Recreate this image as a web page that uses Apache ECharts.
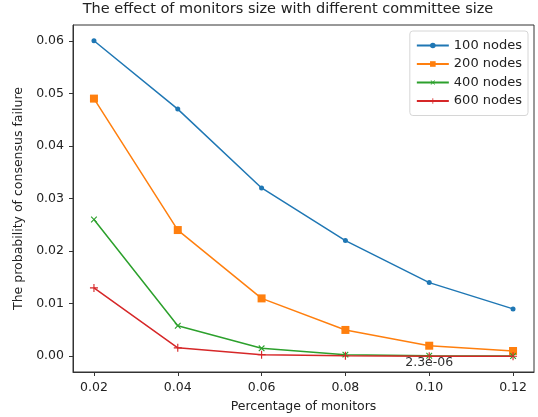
<!DOCTYPE html>
<html>
<head>
<meta charset="utf-8">
<script src="https://cdn.jsdelivr.net/npm/echarts@6/dist/echarts.min.js"></script>
<style>
  html, body { margin: 0; padding: 0; background: #fff; }
  #chart { width: 538px; height: 417px; }
</style>
</head>
<body>
<div id="chart"></div>
<script>
var monitors = [0.02, 0.04, 0.06, 0.08, 0.10, 0.12];
var nodes100 = [0.060, 0.047, 0.032, 0.022, 0.014, 0.009];
var nodes200 = [0.049, 0.024, 0.011, 0.005, 0.002, 0.001];
var nodes400 = [0.026, 0.0058, 0.0015, 0.0003, 0.0001, 0.00004];
var nodes600 = [0.013, 0.0016, 0.0003, 0.0001, 0.0000023, 0.0000005];
var xTicks = [0.02, 0.04, 0.06, 0.08, 0.10, 0.12];
var yTicks = [0.00, 0.01, 0.02, 0.03, 0.04, 0.05, 0.06];
var seriesNames = ['100 nodes', '200 nodes', '400 nodes', '600 nodes'];

var font = 'DejaVu Sans';
var plus = 'path://M4.3,0H5.7V4.3H10V5.7H5.7V10H4.3V5.7H0V4.3H4.3Z';

function pairs(ys) {
    return monitors.map(function (x, i) { return [x, ys[i]]; });
}

function line(name, ys, color, symbol, size, rotate) {
    return {
        name: name,
        type: 'line',
        data: pairs(ys),
        symbol: symbol,
        symbolSize: size,
        symbolRotate: rotate || 0,
        showAllSymbol: true,
        lineStyle: { color: color, width: 1.5 },
        itemStyle: { color: color },
        emphasis: { disabled: true },
        z: 2
    };
}

var axisText = { fontFamily: font, fontSize: 12.5, color: '#222' };

var myChart = echarts.init(document.getElementById('chart'));
var option = {
    animation: false,
    title: {
        text: 'The effect of monitors size with different committee size',
        left: 288,
        top: 2,
        padding: 0,
        textAlign: 'center',
        textStyle: { fontFamily: font, fontSize: 14.5, fontWeight: 'normal', color: '#222' }
    },
    legend: {
        orient: 'vertical',
        right: 10,
        top: 31,
        data: seriesNames,
        itemWidth: 32,
        itemHeight: 7,
        itemGap: 5.5,
        padding: [8, 6, 8, 6],
        borderColor: '#d6d6d6',
        borderWidth: 1,
        borderRadius: 3,
        backgroundColor: '#fff',
        textStyle: { fontFamily: font, fontSize: 13, color: '#222' }
    },
    grid: {
        left: 73,
        right: 4,
        top: 25,
        bottom: 45,
        outerBoundsMode: 'none',
        show: true,
        borderColor: '#333',
        borderWidth: 1
    },
    xAxis: {
        type: 'value',
        min: 0.015,
        max: 0.125,
        name: 'Percentage of monitors',
        nameLocation: 'middle',
        nameGap: 28,
        nameTextStyle: axisText,
        axisLine: { show: true, onZero: false, lineStyle: { color: '#333' } },
        splitLine: { show: false },
        axisTick: { show: true, length: 4, customValues: xTicks, lineStyle: { color: '#333' } },
        axisLabel: {
            customValues: xTicks,
            margin: 9,
            fontFamily: font,
            fontSize: 12.5,
            color: '#222',
            formatter: function (v) { return v.toFixed(2); }
        }
    },
    yAxis: {
        type: 'value',
        min: -0.003,
        max: 0.063,
        name: 'The probability of consensus failure',
        nameLocation: 'middle',
        nameGap: 47,
        nameTextStyle: axisText,
        axisLine: { show: true, onZero: false, lineStyle: { color: '#333' } },
        splitLine: { show: false },
        axisTick: { show: true, length: 4, customValues: yTicks, lineStyle: { color: '#333' } },
        axisLabel: {
            customValues: yTicks,
            margin: 9,
            fontFamily: font,
            fontSize: 12.5,
            color: '#222',
            formatter: function (v) { return v.toFixed(2); }
        }
    },
    series: [
        line(seriesNames[0], nodes100, '#1f77b4', 'circle', 5),
        line(seriesNames[1], nodes200, '#ff7f0e', 'rect', 8),
        line(seriesNames[2], nodes400, '#2ca02c', plus, 8, 45),
        (function () {
            var s = line(seriesNames[3], nodes600, '#d62728', plus, 8);
            s.markPoint = {
                symbol: 'circle',
                symbolSize: 0,
                silent: true,
                data: [{ coord: [0.10, -0.0012] }],
                label: {
                    show: true,
                    position: 'inside',
                    formatter: '2.3e-06',
                    fontFamily: font,
                    fontSize: 12.5,
                    color: '#333'
                }
            };
            return s;
        })()
    ]
};
myChart.setOption(option);
</script>
</body>
</html>
